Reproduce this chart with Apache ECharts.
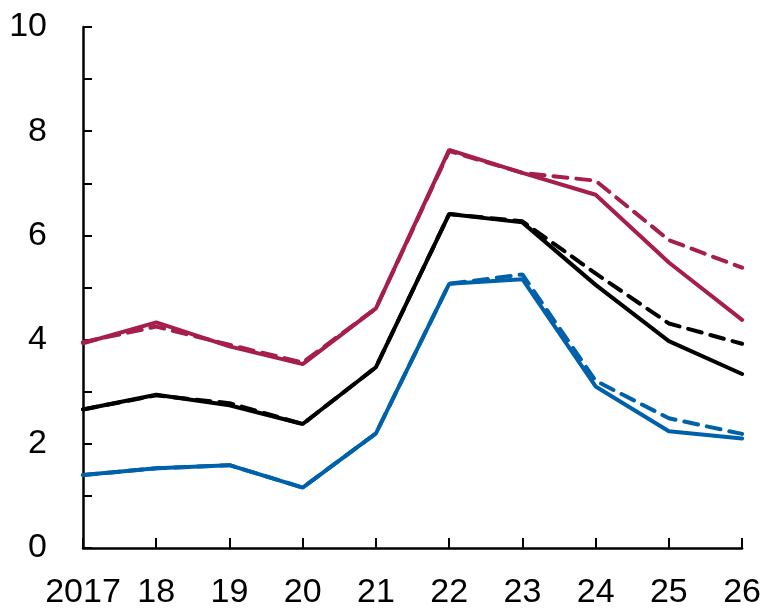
<!DOCTYPE html>
<html>
<head>
<meta charset="utf-8">
<script src="https://cdn.jsdelivr.net/npm/echarts@6/dist/echarts.min.js"></script>
<style>
  html, body { margin: 0; padding: 0; background: #fff; }
  #chart { width: 764px; height: 613px; }
</style>
</head>
<body>
<div id="chart"></div>
<script>
var years = ['2017', '18', '19', '20', '21', '22', '23', '24', '25', '26'];

var redSolid   = [3.93, 4.33, 3.87, 3.53, 4.6, 7.64, 7.2, 6.78, 5.48, 4.38];
var redDashed  = [3.95, 4.25, 3.9, 3.56, 4.6, 7.62, 7.2, 7.05, 5.91, 5.38];
var blackSolid  = [2.66, 2.94, 2.74, 2.38, 3.47, 6.41, 6.25, 5.05, 3.97, 3.34];
var blackDashed = [2.66, 2.93, 2.78, 2.38, 3.47, 6.41, 6.27, 5.27, 4.31, 3.92];
var blueSolid  = [1.4, 1.53, 1.59, 1.16, 2.2, 5.07, 5.16, 3.1, 2.24, 2.1];
var blueDashed = [1.4, 1.53, 1.59, 1.16, 2.2, 5.07, 5.25, 3.21, 2.49, 2.19];

var RED = '#A51E4E';
var BLACK = '#000000';
var BLUE = '#0061AB';
var FONT = '"Liberation Sans Narrow", "Liberation Sans", Arial, sans-serif';

function line(data, color, dashed) {
    return {
        type: 'line',
        data: data,
        symbol: 'none',
        z: dashed ? 3 : 2,
        lineStyle: {
            color: color,
            width: 4,
            type: dashed ? [14, 9] : 'solid',
            cap: 'round'
        }
    };
}

var option = {
    animation: false,
    grid: { left: 83, right: 20, top: 27, bottom: 65 },
    xAxis: {
        type: 'category',
        data: years,
        boundaryGap: false,
        axisLine: { lineStyle: { color: '#000', width: 2.5 } },
        axisTick: { inside: true, interval: 0, length: 10, lineStyle: { color: '#000', width: 2 } },
        axisLabel: { color: '#000', fontSize: 34, fontFamily: FONT, margin: 28, interval: 0 },
        splitLine: { show: false }
    },
    yAxis: {
        type: 'value',
        min: 0,
        max: 10,
        interval: 2,
        axisLine: { show: true, lineStyle: { color: '#000', width: 2.5 } },
        axisTick: { show: true, inside: true, length: 9, lineStyle: { color: '#000', width: 2 } },
        minorTick: { show: true, splitNumber: 2, length: 9, lineStyle: { color: '#000', width: 2 } },
        axisLabel: { color: '#000', fontSize: 34, fontFamily: FONT, margin: 36 },
        splitLine: { show: false }
    },
    series: [
        line(redSolid, RED, false),
        line(redDashed, RED, true),
        line(blackSolid, BLACK, false),
        line(blackDashed, BLACK, true),
        line(blueSolid, BLUE, false),
        line(blueDashed, BLUE, true)
    ]
};

var mychart = echarts.init(document.getElementById('chart'));
mychart.setOption(option);
window.addEventListener('resize', function () {
    mychart.resize();
});
</script>
</body>
</html>
